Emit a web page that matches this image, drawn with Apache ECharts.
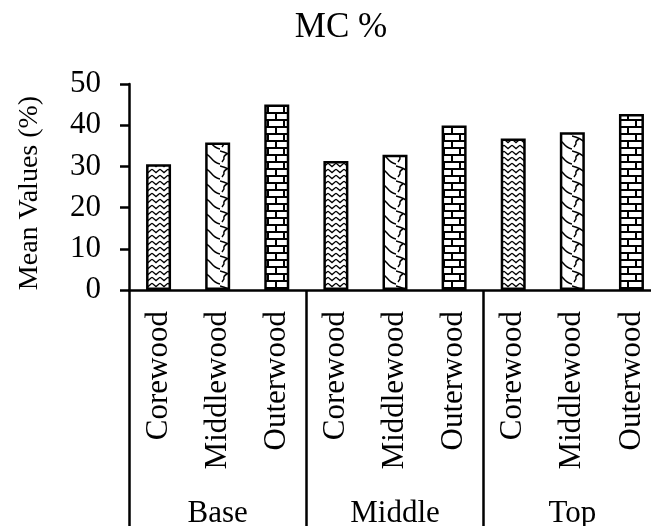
<!DOCTYPE html>
<html>
<head>
<meta charset="utf-8">
<script src="https://cdn.jsdelivr.net/npm/echarts@6/dist/echarts.min.js"></script>
<style>
html,body{margin:0;padding:0;background:#fff;}
#chart{width:651px;height:526px;}
</style>
</head>
<body>
<div id="chart"></div>
<script>
// ---- data ----
const groups = ['Base', 'Middle', 'Top'];
const woods = ['Corewood', 'Middlewood', 'Outerwood'];
const baseValues = [30.5, 35.8, 45.0];
const middleValues = [31.3, 32.8, 39.9];
const topValues = [36.8, 38.3, 42.7];
const groupValues = [baseValues, middleValues, topValues];
const yMin = 0, yMax = 50, yStep = 10;
const titleText = 'MC %';
const yName = 'Mean Values (%)';

// ---- patterns ----
function makeTile(w, h, draw) {
  const c = document.createElement('canvas');
  c.width = w; c.height = h;
  const ctx = c.getContext('2d');
  ctx.fillStyle = '#fff';
  ctx.fillRect(0, 0, w, h);
  ctx.strokeStyle = '#000';
  draw(ctx);
  return c;
}
const zigzag = makeTile(8, 6, ctx => {
  ctx.lineWidth = 1.3;
  ctx.beginPath();
  ctx.moveTo(0, 1.2); ctx.lineTo(4, 4.6); ctx.lineTo(8, 1.2);
  ctx.stroke();
});
const wave = makeTile(22, 15, ctx => {
  ctx.lineWidth = 1.4;
  ctx.beginPath();
  ctx.moveTo(0, 1); ctx.quadraticCurveTo(9, 3, 13, 8); ctx.quadraticCurveTo(17, 13, 22, 14);
  ctx.stroke();
  ctx.beginPath();
  ctx.moveTo(7, 4); ctx.quadraticCurveTo(3, 6, 4, 9); ctx.lineTo(2, 12);
  ctx.stroke();
});
const brick = makeTile(16, 14, ctx => {
  ctx.fillStyle = '#000';
  ctx.fillRect(0, 0, 16, 2);
  ctx.fillRect(0, 7, 16, 2);
  ctx.fillRect(3, 0, 2, 7);
  ctx.fillRect(11, 7, 2, 7);
});
const patterns = [
  { image: zigzag, repeat: 'repeat' },
  { image: wave, repeat: 'repeat' },
  { image: brick, repeat: 'repeat' }
];

// ---- build ----
const categories = [];
const seriesData = [];
groups.forEach((g, gi) => {
  woods.forEach((w, wi) => {
    categories.push(w);
    seriesData.push({
      value: groupValues[gi][wi],
      itemStyle: { color: patterns[wi], borderColor: '#000', borderWidth: 2.5 }
    });
  });
});

const FONT = 'Liberation Serif, Times New Roman, serif';
const chart = echarts.init(document.getElementById('chart'), null, { renderer: 'canvas' });
chart.setOption({
  animation: false,
  backgroundColor: '#fff',
  title: {
    text: titleText,
    left: 336, top: 5, textAlign: 'center',
    textStyle: { fontFamily: FONT, fontSize: 35, fontWeight: 'normal', color: '#000' }
  },
  grid: { left: 129, right: -10, top: 84, bottom: 236, containLabel: false, outerBoundsMode: 'none' },
  xAxis: [
    {
      type: 'category',
      data: categories,
      axisLine: { show: true, lineStyle: { color: '#000', width: 2.5 } },
      axisTick: { show: false },
      axisLabel: { rotate: 90, margin: 21, fontFamily: FONT, fontSize: 31, color: '#000', interval: 0 },
      splitLine: { show: false }
    },
    {
      type: 'category',
      position: 'bottom',
      data: groups,
      axisLine: { show: false },
      axisTick: { show: true, length: 240, lineStyle: { color: '#000', width: 2.5 } },
      axisLabel: { margin: 208, fontFamily: FONT, fontSize: 31, color: '#000', interval: 0 },
      splitLine: { show: false }
    }
  ],
  yAxis: {
    type: 'value',
    min: yMin, max: yMax, interval: yStep,
    name: yName,
    nameLocation: 'middle',
    nameGap: 85,
    nameTextStyle: { fontFamily: FONT, fontSize: 28, color: '#000', padding: [0, 12, 0, 0] },
    axisLine: { show: true, lineStyle: { color: '#000', width: 2.5 } },
    axisTick: { show: true, length: 9, lineStyle: { color: '#000', width: 2.5 } },
    axisLabel: { margin: 28, fontFamily: FONT, fontSize: 31, color: '#000' },
    splitLine: { show: false }
  },
  series: [{
    type: 'bar',
    xAxisIndex: 0,
    data: seriesData,
    barWidth: 25
  }]
});
</script>
</body>
</html>
